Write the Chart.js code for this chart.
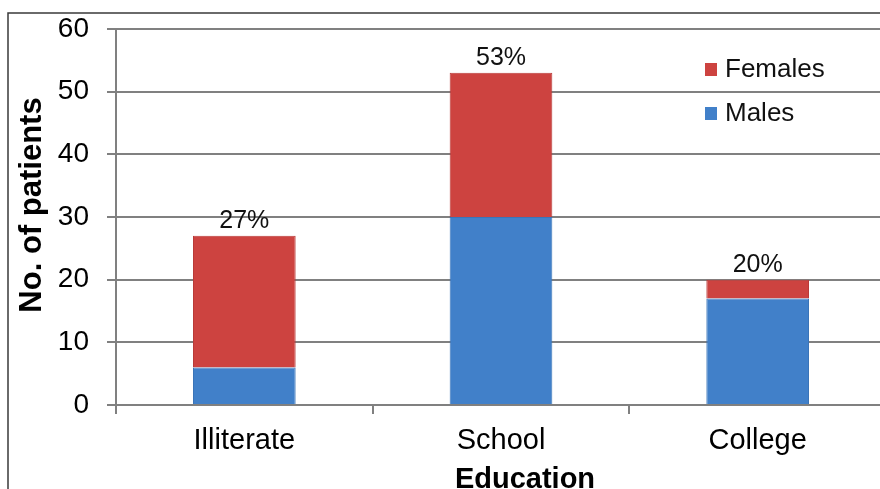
<!DOCTYPE html>
<html>
<head>
<meta charset="utf-8">
<script src="https://cdn.jsdelivr.net/npm/chart.js@4/dist/chart.umd.min.js"></script>
<style>
  html, body { margin: 0; padding: 0; background: #fff; overflow: hidden; }
  #wrap { width: 880px; height: 489px; overflow: hidden; }
  #wrap canvas { display: block; }
</style>
</head>
<body>
<div id="wrap"><canvas id="chart" width="900" height="489"></canvas></div>
<script>
// education levels and patient counts
const categories = ["Illiterate", "School", "College"];
const males = [6, 30, 17];
const females = [21, 23, 3];
const yTicks = [0, 10, 20, 30, 40, 50, 60];

const RED = "#cd4340";
const BLUE = "#4180c9";
const GRID = "#808080";
const FONT = "'Liberation Sans', Arial, sans-serif";

const grandTotal = males.concat(females).reduce((a, b) => a + b, 0);

// frame, axis titles, percentage labels and legend
const extras = {
    id: "extras",
    beforeDraw(chart) {
        const ctx = chart.ctx;
        ctx.save();
        ctx.fillStyle = "#fff";
        ctx.fillRect(0, 0, chart.width, chart.height);
        ctx.strokeStyle = "#3a3a3a";
        ctx.lineWidth = 1.5;
        ctx.beginPath();
        ctx.moveTo(8, chart.height);
        ctx.lineTo(8, 13);
        ctx.lineTo(chart.width, 13);
        ctx.stroke();
        ctx.restore();
    },
    afterDatasetsDraw(chart) {
        const ctx = chart.ctx;
        const top = chart.getDatasetMeta(1);
        ctx.save();
        ctx.fillStyle = "#111";
        ctx.font = "25px " + FONT;
        ctx.textAlign = "center";
        ctx.textBaseline = "alphabetic";
        top.data.forEach((bar, i) => {
            const pct = Math.round((males[i] + females[i]) / grandTotal * 100);
            ctx.fillText(pct + "%", bar.x, bar.y - 8);
        });
        ctx.restore();
    },
    afterDraw(chart) {
        const ctx = chart.ctx;
        ctx.save();
        ctx.fillStyle = "#000";
        ctx.font = "bold 29px " + FONT;
        ctx.textAlign = "center";
        ctx.textBaseline = "alphabetic";
        ctx.fillText("Education", 525, 488);
        ctx.font = "bold 31px " + FONT;
        ctx.translate(41, 205);
        ctx.rotate(-Math.PI / 2);
        ctx.fillText("No. of patients", 0, 0);
        ctx.restore();

        // legend, top series first
        const items = [
            { label: "Females", color: RED, y: 77 },
            { label: "Males", color: BLUE, y: 121 }
        ];
        ctx.save();
        ctx.font = "26px " + FONT;
        ctx.textBaseline = "alphabetic";
        items.forEach(it => {
            ctx.fillStyle = it.color;
            ctx.fillRect(705, it.y - 14, 12, 13);
            ctx.fillStyle = "#111";
            ctx.fillText(it.label, 725, it.y);
        });
        ctx.restore();
    }
};

new Chart(document.getElementById("chart"), {
    type: "bar",
    data: {
        labels: categories,
        datasets: [
            { label: "Males", data: males, backgroundColor: BLUE, borderColor: "#3a74b8", borderWidth: 1 },
            { label: "Females", data: females, backgroundColor: RED, borderColor: "#b93a38", borderWidth: 1 }
        ]
    },
    options: {
        responsive: false,
        animation: false,
        layout: { padding: { left: 0, right: 14, top: 29, bottom: 0 } },
        plugins: {
            legend: { display: false },
            tooltip: { enabled: false }
        },
        datasets: {
            bar: { barPercentage: 0.4, categoryPercentage: 1 }
        },
        scales: {
            x: {
                stacked: true,
                offset: true,
                afterFit: scale => {
                    scale.height = 84;
                    scale.paddingLeft = 0;
                    scale.paddingRight = 0;
                },
                grid: { offset: true, drawOnChartArea: false, drawTicks: true, tickLength: 9, color: GRID, lineWidth: 2 },
                border: { display: true, color: GRID, width: 2 },
                ticks: { color: "#000", font: { family: FONT, size: 29 }, padding: 10 }
            },
            y: {
                stacked: true,
                min: 0,
                max: 60,
                afterFit: scale => {
                    scale.width = 116;
                    scale.paddingTop = 0;
                    scale.paddingBottom = 0;
                },
                afterBuildTicks: scale => { scale.ticks = yTicks.map(v => ({ value: v })); },
                grid: { color: GRID, lineWidth: 2, tickLength: 9 },
                border: { display: true, color: GRID, width: 2 },
                ticks: { color: "#000", font: { family: FONT, size: 28 }, padding: 18 }
            }
        }
    },
    plugins: [extras]
});
</script>
</body>
</html>
